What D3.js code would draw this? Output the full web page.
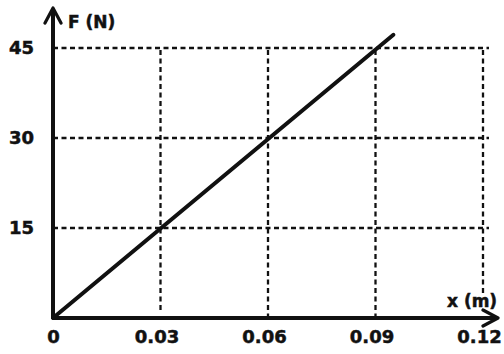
<!DOCTYPE html>
<html>
<head>
<meta charset="utf-8">
<script src="https://cdn.jsdelivr.net/npm/d3@7"></script>
<style>
  body { margin: 0; background: #fff; }
  svg { display: block; }
  text { font-family: "DejaVu Sans", sans-serif; font-weight: bold; fill: #111; stroke: #111; stroke-width: 0.5px; }
</style>
</head>
<body>
<div id="chart"></div>
<script>
// F (N) vs x (m) - straight line through origin

const xTicks = [0, 0.03, 0.06, 0.09, 0.12];
const xTickLabels = ['0', '0.03', '0.06', '0.09', '0.12'];
const yTicks = [15, 30, 45];
const yTickLabels = ['15', '30', '45'];
const lineX = [0, 0.095];
const lineF = [0, 47.2];

const width = 504;
const height = 354;

const x = d3.scaleLinear().domain([0, 0.12]).range([53, 483]);
const y = d3.scaleLinear().domain([0, 45]).range([318, 48]);

const svg = d3.select('#chart')
    .append('svg')
    .attr('width', width)
    .attr('height', height);

// arrow head
svg.append('defs').append('marker')
    .attr('id', 'arrow')
    .attr('viewBox', '0 0 10 10')
    .attr('refX', 8.5)
    .attr('refY', 5)
    .attr('markerWidth', 5)
    .attr('markerHeight', 5)
    .attr('markerUnits', 'strokeWidth')
    .attr('orient', 'auto')
    .append('path')
    .attr('d', 'M1.5,1 L9,5 L1.5,9')
    .attr('fill', 'none')
    .attr('stroke', '#111')
    .attr('stroke-width', 1.6)
    .attr('stroke-linecap', 'round')
    .attr('stroke-linejoin', 'round');

// dashed grid
const grid = svg.append('g')
    .attr('stroke', '#111')
    .attr('stroke-width', 2.3)
    .attr('stroke-dasharray', '5,3.5');

grid.selectAll('line.h')
    .data(yTicks)
    .enter().append('line')
    .attr('x1', x(0))
    .attr('x2', x(0.12) + 6)
    .attr('y1', d => y(d))
    .attr('y2', d => y(d));

const vEnd = { 0.03: 310, 0.06: 316, 0.09: 316, 0.12: 296 };
grid.selectAll('line.v')
    .data(xTicks.slice(1))
    .enter().append('line')
    .attr('x1', d => x(d))
    .attr('x2', d => x(d))
    .attr('y1', y(45) + 2)
    .attr('y2', d => vEnd[d]);

// axes (thick arrows)
svg.append('line')
    .attr('x1', x(0)).attr('y1', y(0) + 1)
    .attr('x2', x(0)).attr('y2', 9)
    .attr('stroke', '#111')
    .attr('stroke-width', 4)
    .attr('marker-end', 'url(#arrow)');

svg.append('line')
    .attr('x1', x(0) - 1).attr('y1', y(0))
    .attr('x2', 497).attr('y2', y(0))
    .attr('stroke', '#111')
    .attr('stroke-width', 4)
    .attr('marker-end', 'url(#arrow)');

// data line
const pts = lineX.map((v, i) => [v, lineF[i]]);
svg.append('path')
    .datum(pts)
    .attr('fill', 'none')
    .attr('stroke', '#111')
    .attr('stroke-width', 4)
    .attr('stroke-linecap', 'round')
    .attr('d', d3.line().x(d => x(d[0])).y(d => y(d[1])));

// tick labels
const xAxis = svg.append('g')
    .attr('transform', `translate(0,${y(0)})`)
    .call(d3.axisBottom(x).tickValues(xTicks).tickFormat((d, i) => xTickLabels[i]).tickSize(0).tickPadding(12));
xAxis.select('.domain').remove();
xAxis.selectAll('text')
    .attr('font-size', 18)
    .attr('font-family', '"DejaVu Sans", sans-serif')
    .attr('font-weight', 'bold')
    .attr('fill', '#111')
    .attr('dx', (d, i) => (i === 0 ? 0 : -4));

const yAxis = svg.append('g')
    .attr('transform', `translate(${x(0)},0)`)
    .call(d3.axisLeft(y).tickValues(yTicks).tickFormat((d, i) => yTickLabels[i]).tickSize(0).tickPadding(19));
yAxis.select('.domain').remove();
yAxis.selectAll('text')
    .attr('font-size', 18)
    .attr('font-family', '"DejaVu Sans", sans-serif')
    .attr('font-weight', 'bold')
    .attr('fill', '#111');

// axis titles
svg.append('text')
    .attr('x', 68)
    .attr('y', 28)
    .attr('font-size', 17)
    .text('F (N)');

svg.append('text')
    .attr('x', 447)
    .attr('y', 307)
    .attr('font-size', 17)
    .text('x (m)');
</script>
</body>
</html>
